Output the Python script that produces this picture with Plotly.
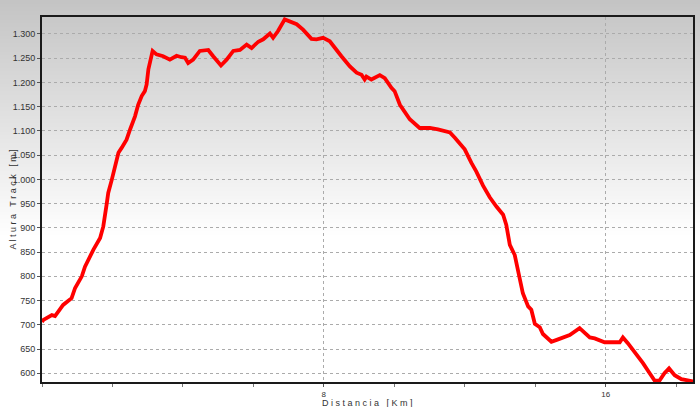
import plotly.graph_objects as go

# Distance (km) and elevation (m)
dist_km = [0.0, 0.04, 0.28, 0.37, 0.60, 0.84, 0.94, 1.13, 1.22, 1.31, 1.46, 1.65, 1.74, 1.84,
           1.88, 1.98, 2.07, 2.17, 2.26, 2.40, 2.50, 2.64, 2.73, 2.83, 2.92, 2.97, 3.02, 3.06,
           3.14, 3.25, 3.44, 3.63, 3.82, 3.96, 4.06, 4.15, 4.29, 4.48, 4.72, 4.86, 5.08, 5.24,
           5.43, 5.62, 5.81, 5.95, 6.14, 6.28, 6.47, 6.56, 6.70, 6.89, 7.23, 7.41, 7.65, 7.79,
           7.98, 8.17, 8.31, 8.50, 8.74, 8.93, 9.07, 9.16, 9.21, 9.35, 9.59, 9.73, 9.92, 10.01,
           10.16, 10.25, 10.44, 10.72, 11.01, 11.24, 11.58, 11.72, 11.86, 12.00, 12.19, 12.33,
           12.52, 12.71, 12.90, 13.09, 13.18, 13.28, 13.42, 13.51, 13.65, 13.80, 13.89, 13.99,
           14.13, 14.22, 14.46, 14.65, 14.98, 15.26, 15.40, 15.55, 15.69, 15.97, 16.40, 16.49,
           16.63, 16.82, 17.06, 17.25, 17.39, 17.53, 17.67, 17.80, 17.96, 18.15, 18.33, 18.48]
alt_m = [706, 710, 720, 718, 741, 755, 776, 800, 820, 834, 855, 879, 903, 951,
         972, 999, 1024, 1055, 1065, 1082, 1103, 1130, 1154, 1172, 1182, 1196, 1227, 1240,
         1265, 1258, 1254, 1247, 1255, 1252, 1251, 1240, 1247, 1265, 1267, 1254, 1235, 1247,
         1265, 1267, 1278, 1271, 1284, 1289, 1301, 1292, 1306, 1330, 1320, 1309, 1290, 1289,
         1292, 1285, 1271, 1254, 1233, 1220, 1216, 1206, 1212, 1206, 1215, 1209, 1189, 1182,
         1154, 1144, 1124, 1106, 1106, 1103, 1097, 1086, 1075, 1062, 1034, 1016,
         987, 963, 944, 927, 906, 865, 844, 813, 765, 738, 731, 702,
         695, 681, 665, 670, 679, 693, 683, 674, 672, 664, 664, 674,
         662, 645, 621, 600, 585, 585, 600, 610, 596, 588, 586, 583]

y_tickvals = list(range(600, 1301, 50))
y_ticktext = [f"{v:,}".replace(",", ".") for v in y_tickvals]
x_tickvals = [8, 16]
x_ticktext = ["8", "16"]

W, H = 700, 407
ML, MR, MT, MB = 42, 7, 17, 25
plot_h = H - MT - MB
plot_w = W - ML - MR

fig = go.Figure()
fig.add_trace(go.Scatter(x=dist_km, y=alt_m, mode="lines",
                         line=dict(color="#ff0000", width=3.8), hoverinfo="skip"))

# Gradient background bands (gray at top -> white)
shapes = []
top_c, bot_c = 196, 255
grad_px = 240
step = 4
for top in range(0, grad_px, step):
    t = (top + step / 2) / grad_px
    c = int(round(top_c + (bot_c - top_c) * t))
    y1 = (H - MB - top) / plot_h
    y0 = (H - MB - top - step) / plot_h
    shapes.append(dict(type="rect", xref="paper", yref="paper",
                       x0=-0.1, x1=1.1, y0=y0, y1=y1 + 0.002,
                       fillcolor=f"rgb({c},{c},{c})", line=dict(width=0), layer="below"))

axis_common = dict(
    showgrid=True, gridcolor="#ababab", griddash="dot", gridwidth=1,
    showline=True, linecolor="#1a1a1a", linewidth=2, mirror=True,
    ticks="outside", ticklen=3, tickcolor="#555555", zeroline=False,
    automargin=False,
)

fig.update_layout(
    width=W, height=H,
    margin=dict(l=ML, r=MR, t=MT, b=MB),
    paper_bgcolor="white",
    plot_bgcolor="rgba(0,0,0,0)",
    showlegend=False,
    shapes=shapes,
    font=dict(family="Liberation Sans, Arial, sans-serif", size=9, color="#333333"),
    xaxis=dict(range=[0, 18.48], tickmode="array", tickvals=x_tickvals, ticktext=x_ticktext,
               minor=dict(tickmode="array", tickvals=list(range(0, 19, 2)),
                          ticks="outside", ticklen=3, tickcolor="#777777", showgrid=False),
               tickfont=dict(size=8, color="#333333"),
               **axis_common),
    yaxis=dict(range=[582, 1335], tickmode="array", tickvals=y_tickvals, ticktext=y_ticktext,
               tickfont=dict(size=9, color="#333333"),
               **axis_common),
    annotations=[
        dict(text="D i s t a n c i a   [ K m ]", xref="paper", yref="paper",
             x=0.5, y=-(403 - (H - MB)) / plot_h,
             xanchor="center", yanchor="middle", showarrow=False,
             font=dict(size=9, color="#333333")),
        dict(text="A l t u r a   T r a c k   [ m ]", xref="paper", yref="paper",
             x=-(ML - 12) / plot_w, y=0.5, textangle=-90,
             xanchor="center", yanchor="middle", showarrow=False,
             font=dict(size=9, color="#333333")),
    ],
)

fig.write_html("out.html", config={"displayModeBar": False},
               post_script="document.body.style.margin='0';document.body.style.overflow='hidden';")
